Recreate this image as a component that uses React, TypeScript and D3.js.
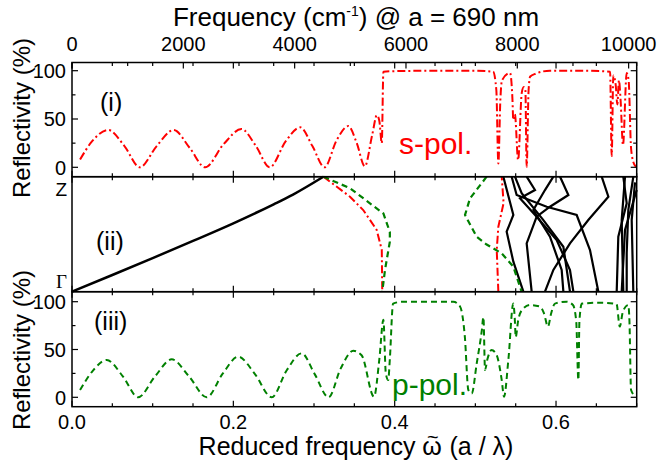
import React from 'react';
import * as d3 from 'd3';

const width = 658;
const height = 464;

// reduced frequency (a/lambda) vs reflectivity (%), s-polarisation
const sPol: [number, number][] = [
  [0.010, 8], [0.025, 27], [0.045, 38.6], [0.065, 22], [0.084, 0], [0.105, 22], [0.126, 38.6],
  [0.146, 20], [0.165, 0], [0.188, 24], [0.210, 39.6], [0.228, 22], [0.245, 0], [0.265, 27],
  [0.283, 41.4], [0.298, 22], [0.313, 0], [0.328, 28], [0.3425, 42.7], [0.353, 25], [0.363, 1],
  [0.372, 33], [0.378, 54], [0.381, 48], [0.384, 25], [0.386, 99], [0.40, 99.5], [0.45, 100],
  [0.50, 100], [0.522, 99], [0.526, 80], [0.5285, 4], [0.531, 70], [0.533, 90], [0.543, 97.6],
  [0.546, 70], [0.547, 49], [0.549, 55], [0.553, 7.5], [0.5575, 77], [0.560, 83], [0.562, 80],
  [0.5636, 0.6], [0.566, 80], [0.568, 94], [0.575, 97], [0.5925, 100], [0.63, 100], [0.667, 99],
  [0.669, 11.7], [0.671, 95], [0.674, 85], [0.676, 65], [0.678, 90], [0.680, 70], [0.683, 23],
  [0.6876, 97.6], [0.690, 90], [0.693, 20], [0.696, 5], [0.699, 0.6],
];

// p-polarisation
const pPol: [number, number][] = [
  [0.010, 7.6], [0.026, 28], [0.043, 39], [0.063, 22], [0.082, 0], [0.103, 22], [0.1236, 39.7],
  [0.145, 22], [0.167, 0], [0.187, 25], [0.206, 42.5], [0.227, 24], [0.2475, 0], [0.266, 28],
  [0.2847, 46], [0.301, 24], [0.318, 0], [0.333, 30], [0.3487, 48.7], [0.359, 44], [0.3744, 0.6],
  [0.381, 40], [0.386, 81], [0.389, 25], [0.392, 18], [0.394, 40], [0.398, 98], [0.41, 100],
  [0.4727, 100], [0.481, 95], [0.487, 63], [0.4913, 7.6], [0.4955, 4], [0.5017, 35.5], [0.508, 70],
  [0.51, 84], [0.512, 28.6], [0.515, 40], [0.520, 49.5], [0.526, 45], [0.5327, 18], [0.5355, 0.6],
  [0.541, 40], [0.547, 98], [0.549, 80], [0.550, 63], [0.553, 80], [0.5575, 91], [0.5677, 96.5],
  [0.58, 95], [0.585, 88], [0.590, 74], [0.594, 88], [0.5987, 98], [0.613, 100], [0.621, 96.5],
  [0.625, 80], [0.6277, 18], [0.629, 80], [0.632, 98], [0.6545, 99], [0.675, 97.6], [0.679, 74],
  [0.683, 90], [0.6896, 96.5], [0.691, 80], [0.693, 7.6], [0.699, 0.6],
];

// band structure: reduced frequency vs k (0 = Gamma, 1 = Z)
const lightLine: [number, number][] = [
  [0, 0], [0.05, 0.145], [0.1, 0.292], [0.15, 0.442], [0.2, 0.595], [0.25, 0.76], [0.274, 0.845], [0.3116, 1],
];
const sBands: [number, number][][] = [
  [[0.3116, 1], [0.3446, 0.826], [0.361, 0.71], [0.3777, 0.537], [0.384, 0.363], [0.3846, 0]],
  [[0.5285, 0], [0.5265, 0.363], [0.5285, 0.565], [0.535, 0.77], [0.5327, 1]],
];
const pBands: [number, number][][] = [
  [[0.3116, 1], [0.3446, 0.9], [0.386, 0.68], [0.394, 0.52], [0.394, 0.435], [0.388, 0.19], [0.3846, 0]],
  [[0.514, 1], [0.4934, 0.812], [0.4872, 0.667], [0.5016, 0.478], [0.514, 0.41], [0.5326, 0.334], [0.5471, 0.217], [0.5574, 0]],
];
const upperBands: [number, number][][] = [
  [[0.5347, 1], [0.5471, 0.667], [0.5388, 0.522], [0.5471, 0.261], [0.5595, 0]],
  [[0.545, 1], [0.5512, 0.841], [0.5884, 0.739], [0.6256, 0.667], [0.6421, 0.362], [0.6525, 0]],
  [[0.5636, 1], [0.5739, 0.884], [0.5553, 0.812], [0.576, 0.652], [0.6008, 0.449], [0.6173, 0.189], [0.6215, 0]],
  [[0.605, 1], [0.6153, 0.841], [0.5925, 0.739], [0.576, 0.652], [0.5636, 0.42], [0.5698, 0]],
  [[0.5491, 1], [0.5574, 0.856], [0.5843, 0.623], [0.6091, 0.391], [0.6173, 0]],
  [[0.5967, 1], [0.5863, 0.884], [0.5719, 0.71], [0.5925, 0.478], [0.607, 0.189], [0.6091, 0]],
  [[0.6566, 1], [0.6649, 0.826], [0.64, 0.623], [0.6173, 0.42], [0.5967, 0.189], [0.5863, 0]],
  [[0.6834, 1], [0.6876, 0.768], [0.6772, 0.478], [0.6752, 0]],
  [[0.6855, 1], [0.6814, 0.623], [0.6834, 0]],
  [[0.6958, 1], [0.6896, 0.71], [0.6876, 0.334], [0.6876, 0]],
  [[0.6979, 0.95], [0.6938, 0.623], [0.6958, 0]],
  [[0.70, 0.884], [0.6855, 0.536], [0.6814, 0]],
];

const omegaTicks = [0, 0.2, 0.4, 0.6];
const omegaMinor = d3.range(0, 0.7001, 0.05);
const freqTicks = [0, 2000, 4000, 6000, 8000, 10000];
const freqMinor = d3.range(0, 10001, 1000);
const reflTicks = [0, 50, 100];
const reflMinor = [25, 75];

const cmPerUnit = 1 / 690e-7; // a = 690 nm

const font = 'Liberation Sans, Arial, sans-serif';
const red = '#ff0000';
const green = '#008000';

const x = d3.scaleLinear().domain([0, 0.7]).range([72, 636.7]);
const xFreq = d3.scaleLinear().domain([0, 0.7 * cmPerUnit]).range([72, 636.7]);

const panels = {
  top: { y0: 62.5, y1: 176.7 },
  mid: { y0: 176.7, y1: 291.7 },
  bot: { y0: 291.7, y1: 406.7 },
};

const yTop = d3.scaleLinear().domain([0, 100]).range([167.3, 70.7]);
const yMid = d3.scaleLinear().domain([0, 1]).range([291.7, 176.7]);
const yBot = d3.scaleLinear().domain([0, 100]).range([397.3, 301.7]);

const specLine = (ys: d3.ScaleLinear<number, number>) =>
  d3.line<[number, number]>().x(d => x(d[0])).y(d => ys(d[1])).curve(d3.curveMonotoneX);
const bandLine = d3.line<[number, number]>().x(d => x(d[0])).y(d => yMid(d[1]));
const lightPath = d3.line<[number, number]>().x(d => x(d[0])).y(d => yMid(d[1])).curve(d3.curveMonotoneX);

const XTicks = ({ y0, y1 }: { y0: number; y1: number }) => (
  <g stroke="black" strokeWidth={1.2}>
    {omegaMinor.map(t => {
      const major = omegaTicks.some(m => Math.abs(m - t) < 1e-6);
      const len = major ? 6 : 3.5;
      return (
        <g key={t}>
          <line x1={x(t)} x2={x(t)} y1={y1} y2={y1 - len} />
          <line x1={x(t)} x2={x(t)} y1={y0} y2={y0 + len} />
        </g>
      );
    })}
  </g>
);

const YTicks = ({ ys }: { ys: d3.ScaleLinear<number, number> }) => (
  <g stroke="black" strokeWidth={1.2}>
    {reflTicks.map(t => (
      <g key={t}>
        <line x1={72} x2={78} y1={ys(t)} y2={ys(t)} />
        <line x1={636.7} x2={630.7} y1={ys(t)} y2={ys(t)} />
      </g>
    ))}
    {reflMinor.map(t => (
      <g key={t}>
        <line x1={72} x2={75.5} y1={ys(t)} y2={ys(t)} />
        <line x1={636.7} x2={633.2} y1={ys(t)} y2={ys(t)} />
      </g>
    ))}
  </g>
);

const YLabels = ({ ys }: { ys: d3.ScaleLinear<number, number> }) => (
  <g fontFamily={font} fontSize={20} textAnchor="end">
    {reflTicks.map(t => (
      <text key={t} x={66} y={ys(t)} dy="0.36em">{t}</text>
    ))}
  </g>
);

export default function App() {
  return (
    <svg width={width} height={height} style={{ position: 'absolute', left: 0, top: 0, background: 'white' }}>
      <rect width={width} height={height} fill="white" />

      {/* curves */}
      <path d={specLine(yTop)(sPol) ?? ''} fill="none" stroke={red} strokeWidth={2} strokeDasharray="8,3,2,3" />
      <path d={specLine(yBot)(pPol) ?? ''} fill="none" stroke={green} strokeWidth={2} strokeDasharray="6,4" />

      <path d={lightPath(lightLine) ?? ''} fill="none" stroke="black" strokeWidth={2.5} />
      {upperBands.map((b, i) => (
        <path key={i} d={bandLine(b) ?? ''} fill="none" stroke="black" strokeWidth={2.2} />
      ))}
      {sBands.map((b, i) => (
        <path key={i} d={bandLine(b) ?? ''} fill="none" stroke={red} strokeWidth={2} strokeDasharray="8,3,2,3" />
      ))}
      {pBands.map((b, i) => (
        <path key={i} d={bandLine(b) ?? ''} fill="none" stroke={green} strokeWidth={2.2} strokeDasharray="6,4" />
      ))}

      {/* frames */}
      {Object.values(panels).map((p, i) => (
        <rect key={i} x={72} y={p.y0} width={636.7 - 72} height={p.y1 - p.y0} fill="none" stroke="black" strokeWidth={1.5} />
      ))}
      {Object.values(panels).map((p, i) => (
        <XTicks key={i} y0={p.y0} y1={p.y1} />
      ))}
      <YTicks ys={yTop} />
      <YTicks ys={yBot} />

      {/* top frequency axis */}
      <g stroke="black" strokeWidth={1.2}>
        {freqMinor.map(t => (
          <line key={t} x1={xFreq(t)} x2={xFreq(t)} y1={panels.top.y0} y2={panels.top.y0 + (t % 2000 === 0 ? 6 : 3.5)} />
        ))}
      </g>
      <g fontFamily={font} fontSize={20} textAnchor="middle">
        {freqTicks.map(t => (
          <text key={t} x={xFreq(t)} y={51}>{t}</text>
        ))}
        {omegaTicks.map(t => (
          <text key={t} x={x(t)} y={429}>{t.toFixed(1)}</text>
        ))}
      </g>
      <text x={356} y={26} fontFamily={font} fontSize={26} textAnchor="middle">
        Frequency (cm<tspan dy={-10} fontSize={14}>-1</tspan><tspan dy={10}>) @ a = 690 nm</tspan>
      </text>
      <text x={356} y={455} fontFamily={font} fontSize={25} textAnchor="middle">
        Reduced frequency ω<tspan dx={-15} dy={-11} fontSize={20}>~</tspan><tspan dx={4} dy={11}> (a / λ)</tspan>
      </text>

      {/* left labels */}
      <YLabels ys={yTop} />
      <YLabels ys={yBot} />
      <text x={67} y={189} fontFamily={font} fontSize={19} textAnchor="end" dy="0.36em">Z</text>
      <text x={67} y={281} fontFamily="Liberation Serif, serif" fontSize={19} textAnchor="end" dy="0.36em">Γ</text>
      <text transform="translate(30,118) rotate(-90)" fontFamily={font} fontSize={24} textAnchor="middle">Reflectivity (%)</text>
      <text transform="translate(30,350) rotate(-90)" fontFamily={font} fontSize={24} textAnchor="middle">Reflectivity (%)</text>

      {/* panel tags */}
      <g fontFamily={font} fontSize={25}>
        <text x={100} y={111}>(i)</text>
        <text x={96} y={250}>(ii)</text>
        <text x={94} y={330}>(iii)</text>
      </g>
      <text x={399} y={154} fontFamily={font} fontSize={30} fill={red}>s-pol.</text>
      <text x={392} y={395} fontFamily={font} fontSize={30} fill={green}>p-pol.</text>
    </svg>
  );
}
